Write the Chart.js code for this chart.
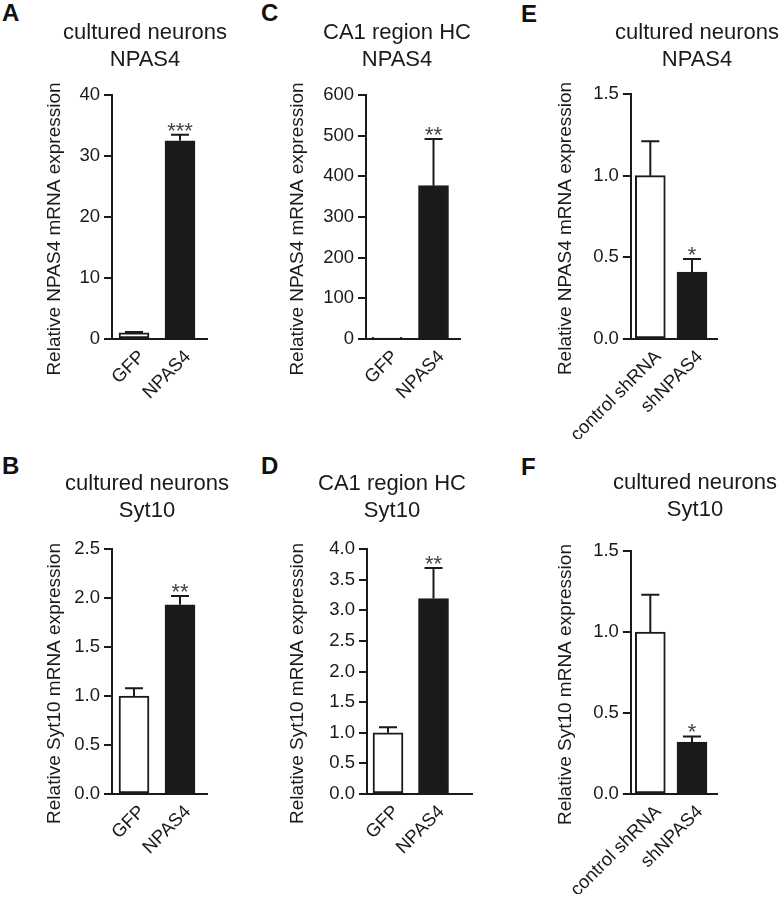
<!DOCTYPE html>
<html><head><meta charset="utf-8">
<script src="https://cdn.jsdelivr.net/npm/chart.js@4.4.0/dist/chart.umd.min.js"></script>
<style>
html,body{margin:0;padding:0;background:#fff;overflow:hidden;width:783px;height:900px;}
#wrap{position:relative;width:783px;height:900px;overflow:hidden;background:#fff;}
canvas{position:absolute;}
.lbl{position:absolute;font-family:'Liberation Sans',Arial,sans-serif;font-weight:bold;font-size:24px;line-height:24px;color:#111;}
</style></head><body><div id="wrap">
<div class="lbl" style="left:2px;top:1px">A</div>
<div class="lbl" style="left:2px;top:454px">B</div>
<div class="lbl" style="left:261px;top:1px">C</div>
<div class="lbl" style="left:261px;top:454px">D</div>
<div class="lbl" style="left:521px;top:2px">E</div>
<div class="lbl" style="left:521px;top:455px">F</div>
</div>
<script>
// ---------- data ----------
const catsOverexpression = ['GFP', 'NPAS4'];
const catsKnockdown = ['control shRNA', 'shNPAS4'];

const titleA = ['cultured neurons', 'NPAS4'];
const titleB = ['cultured neurons', 'Syt10'];
const titleC = ['CA1 region HC', 'NPAS4'];
const titleD = ['CA1 region HC', 'Syt10'];
const titleE = ['cultured neurons', 'NPAS4'];
const titleF = ['cultured neurons', 'Syt10'];

const yTitleNpas4 = 'Relative NPAS4 mRNA expression';
const yTitleSyt10 = 'Relative Syt10 mRNA expression';

const meanA = [1.0, 32.5];   const semA = [0.15, 1.0];  const starsA = ['', '***'];
const meanB = [1.0, 1.93];   const semB = [0.08, 0.09]; const starsB = ['', '**'];
const meanC = [4, 377];      const semC = [0, 115];     const starsC = ['', '**'];
const meanD = [1.0, 3.19];   const semD = [0.09, 0.5];  const starsD = ['', '**'];
const meanE = [1.0, 0.41];   const semE = [0.21, 0.08]; const starsE = ['', '*'];
const meanF = [1.0, 0.32];   const semF = [0.23, 0.035]; const starsF = ['', '*'];

const ticksA = [0, 10, 20, 30, 40];
const ticksB = [0, 0.5, 1.0, 1.5, 2.0, 2.5];
const ticksC = [0, 100, 200, 300, 400, 500, 600];
const ticksD = [0, 0.5, 1.0, 1.5, 2.0, 2.5, 3.0, 3.5, 4.0];
const ticksE = [0, 0.5, 1.0, 1.5];
const ticksF = [0, 0.5, 1.0, 1.5];

// ---------- layout (pixel geometry of each panel) ----------
const FONT = "'Liberation Sans', Arial, Helvetica, sans-serif";
const INK = '#1a1a1a';
const X_AXIS_H = 100;
const TITLE_SIZE = 22, TITLE_LH = 1.2;

const panels = [
  {id:'A', cats:catsOverexpression, mean:meanA, sem:semA, stars:starsA, ticks:ticksA, dec:0, title:titleA, yTitle:yTitleNpas4,
   L:0, T:0, titleCx:145, axisX:112, axisEnd:207, plotTop:95, plotBottom:339, titleBase:41, yTitleX:60, c0:134, c1:180},
  {id:'B', cats:catsOverexpression, mean:meanB, sem:semB, stars:starsB, ticks:ticksB, dec:1, title:titleB, yTitle:yTitleSyt10,
   L:0, T:440, titleCx:147, axisX:112, axisEnd:207, plotTop:549, plotBottom:794, titleBase:492, yTitleX:60, c0:134, c1:180},
  {id:'C', cats:catsOverexpression, mean:meanC, sem:semC, stars:starsC, ticks:ticksC, dec:0, title:titleC, yTitle:yTitleNpas4,
   L:250, T:0, titleCx:397, axisX:366, axisEnd:460, plotTop:95, plotBottom:339, titleBase:41, yTitleX:303, c0:387, c1:433.5},
  {id:'D', cats:catsOverexpression, mean:meanD, sem:semD, stars:starsD, ticks:ticksD, dec:1, title:titleD, yTitle:yTitleSyt10,
   L:250, T:440, titleCx:392, axisX:367, axisEnd:472, plotTop:549, plotBottom:794, titleBase:492, yTitleX:303, c0:388, c1:433.5},
  {id:'E', cats:catsKnockdown, mean:meanE, sem:semE, stars:starsE, ticks:ticksE, dec:1, title:titleE, yTitle:yTitleNpas4,
   L:540, T:0, titleCx:697, axisX:624, axisEnd:717, plotTop:94, plotBottom:339, titleBase:41, yTitleX:571, c0:645, c1:690},
  {id:'F', cats:catsKnockdown, mean:meanF, sem:semF, stars:starsF, ticks:ticksF, dec:1, title:titleF, yTitle:yTitleSyt10,
   L:540, T:440, titleCx:695, axisX:624, axisEnd:717, plotTop:551, plotBottom:794, titleBase:491, yTitleX:571, c0:645, c1:690}
];

const errPlugin = {
  id: 'errStars',
  afterDatasetsDraw(chart, args, o) {
    const ctx = chart.ctx;
    const ys = chart.scales.y;
    const meta = chart.getDatasetMeta(0);
    const data = chart.data.datasets[0].data;
    ctx.save();
    meta.data.forEach((bar, i) => {
      const m = data[i].y, e = o.sem[i];
      const yBar = ys.getPixelForValue(m);
      const yTop = ys.getPixelForValue(m + e);
      const x = bar.x;
      if (e > 0) {
        ctx.strokeStyle = INK; ctx.lineWidth = 2;
        ctx.beginPath();
        ctx.moveTo(x, yBar); ctx.lineTo(x, yTop);
        ctx.moveTo(x - 9, yTop); ctx.lineTo(x + 9, yTop);
        ctx.stroke();
      }
      if (o.stars[i]) {
        ctx.fillStyle = '#444';
        ctx.font = '22px ' + FONT;
        ctx.textAlign = 'center'; ctx.textBaseline = 'alphabetic';
        ctx.fillText(o.stars[i], x, yTop + 3);
      }
    });
    // y-axis title
    const ca = chart.chartArea;
    ctx.fillStyle = INK;
    ctx.font = '19px ' + FONT;
    ctx.textAlign = 'center'; ctx.textBaseline = 'alphabetic';
    ctx.translate(o.yTitleX, (ca.top + ca.bottom) / 2 + 12);
    ctx.rotate(-Math.PI / 2);
    ctx.fillText(o.yTitle, 0, 0);
    ctx.restore();
  }
};

const wrap = document.getElementById('wrap');
panels.forEach(p => {
  const W = Math.round(2 * (p.titleCx - p.L));
  const H = p.plotBottom - p.T + X_AXIS_H;
  const spacer = p.L + W - p.axisEnd;
  const yW = p.axisX - p.L;
  const lh = TITLE_SIZE * TITLE_LH;
  const pt = p.titleBase - 7.6 - p.T - lh / 2;
  const pb = p.plotTop - p.T - pt - 2 * lh;
  const unit = p.c1 - p.c0;
  const xMin = -(p.c0 - p.axisX) / unit;
  const xMax = 1 + (p.axisEnd - p.c1) / unit;

  const cv = document.createElement('canvas');
  cv.width = W; cv.height = H;
  cv.style.left = p.L + 'px'; cv.style.top = p.T + 'px';
  cv.style.width = W + 'px'; cv.style.height = H + 'px';
  wrap.appendChild(cv);

  new Chart(cv, {
    type: 'bar',
    data: {
      datasets: [{
        data: p.mean.map((v, i) => ({x: i, y: v})),
        backgroundColor: ['#ffffff', INK],
        borderColor: INK,
        borderWidth: 2,
        borderSkipped: false,
        barThickness: 30
      }]
    },
    options: {
      responsive: false,
      animation: false,
      devicePixelRatio: 1,
      layout: {padding: 0},
      plugins: {
        legend: {display: false},
        tooltip: {enabled: false},
        title: {
          display: true, text: p.title, color: INK,
          font: {family: FONT, size: TITLE_SIZE, weight: 'normal', lineHeight: TITLE_LH},
          padding: {top: pt, bottom: pb}
        },
        errStars: {sem: p.sem, stars: p.stars, yTitle: p.yTitle, yTitleX: p.yTitleX - p.L}
      },
      scales: {
        x: {
          type: 'linear', position: 'bottom', min: xMin, max: xMax, offset: false,
          grid: {display: false, drawTicks: false},
          border: {display: true, color: INK, width: 2},
          afterBuildTicks: s => { s.ticks = p.cats.map((c, i) => ({value: i})); },
          afterFit: s => { s.height = X_AXIS_H; },
          ticks: {
            autoSkip: false, minRotation: 45, maxRotation: 45, padding: 7, labelOffset: 8,
            color: INK, font: {family: FONT, size: 18.5},
            callback: (v, i) => p.cats[i]
          }
        },
        y: {
          type: 'linear', position: 'left', min: p.ticks[0], max: p.ticks[p.ticks.length - 1],
          grid: {drawOnChartArea: false, drawTicks: true, tickLength: 8, color: INK, lineWidth: 2},
          border: {display: true, color: INK, width: 2},
          afterBuildTicks: s => { s.ticks = p.ticks.map(v => ({value: v})); },
          afterFit: s => { s.width = yW; },
          ticks: {
            padding: 4, color: INK, font: {family: FONT, size: 18.5},
            callback: v => Number(v).toFixed(p.dec)
          }
        },
        ySpacer: {
          type: 'linear', position: 'right', display: true,
          grid: {display: false, drawTicks: false},
          border: {display: false},
          ticks: {display: false},
          afterFit: s => { s.width = spacer; }
        }
      }
    },
    plugins: [errPlugin]
  });
});
</script>
</body></html>
